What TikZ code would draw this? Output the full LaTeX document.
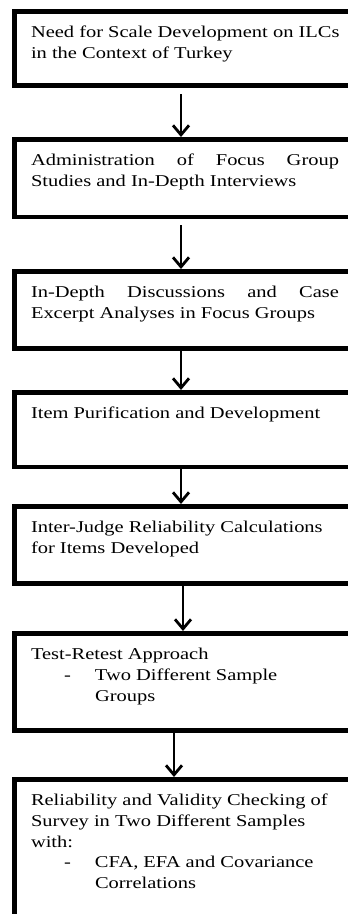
\documentclass[tikz,border=0pt]{standalone}
\usepackage{fontspec}
\setmainfont{Liberation Serif}[FakeStretch=1.24]
\usetikzlibrary{arrows.meta}
\tikzset{
  stepbox/.style={draw, line width=4.5pt, anchor=north west, inner xsep=16.75pt,
    inner ysep=0pt, text width=330pt, align=left, text height=26.5pt,
    font=\fontsize{16.5}{20.7}\selectfont,
    execute at begin node={\spaceskip=0pt\xspaceskip=0pt\relax}},
  flowarrow/.style={line width=2.8pt, -{Straight Barb[length=9.5pt,width=16pt]}}
}
\newcommand{\jline}[1]{\makebox[308pt][l]{#1}}
\newcommand{\dashitem}{\hspace*{33pt}\makebox[31pt][l]{-}}
\begin{document}
\begin{tikzpicture}[x=1pt,y=-1pt]
\useasboundingbox (0,0) rectangle (348,914);
\clip (0,0) rectangle (348,914);
\node[stepbox, text depth=47.5pt] (b1) at (12,9)
  {Need for Scale Development on ILCs\\ in the Context of Turkey};
\node[stepbox, text depth=51pt] (b2) at (12,137)
  {\jline{Administration\hfill of\hfill Focus\hfill Group}\\ Studies and In-Depth Interviews};
\node[stepbox, text depth=50.5pt] (b3) at (12,269)
  {\jline{In-Depth\hfill Discussions\hfill and\hfill Case}\\ Excerpt Analyses in Focus Groups};
\node[stepbox, text depth=48pt] (b4) at (12,390)
  {Item Purification and Development};
\node[stepbox, text depth=50.5pt] (b5) at (12,504)
  {Inter-Judge Reliability Calculations\\ for Items Developed};
\node[stepbox, text depth=70.5pt] (b6) at (12,631)
  {Test-Retest Approach\\ \dashitem Two Different Sample\\ \hspace*{64pt}Groups};
\node[stepbox, text depth=142pt] (b7) at (12,777)
  {Reliability and Validity Checking of\\ Survey in Two Different Samples\\ with:\\
   \dashitem CFA, EFA and Covariance\\ \hspace*{64pt}Correlations};
\draw[flowarrow, shorten <=6.5pt] ([xshift=-15pt]b1.south) -- ([xshift=-15pt]b2.north);
\draw[flowarrow, shorten <=6pt] ([xshift=-15pt]b2.south) -- ([xshift=-15pt]b3.north);
\draw[flowarrow] ([xshift=-15pt]b3.south) -- ([xshift=-15pt]b4.north);
\draw[flowarrow] ([xshift=-15pt]b4.south) -- ([xshift=-15pt]b5.north);
\draw[flowarrow] ([xshift=-13pt]b5.south) -- ([xshift=-13pt]b6.north);
\draw[flowarrow] ([xshift=-22pt]b6.south) -- ([xshift=-22pt]b7.north);
\end{tikzpicture}
\end{document}
